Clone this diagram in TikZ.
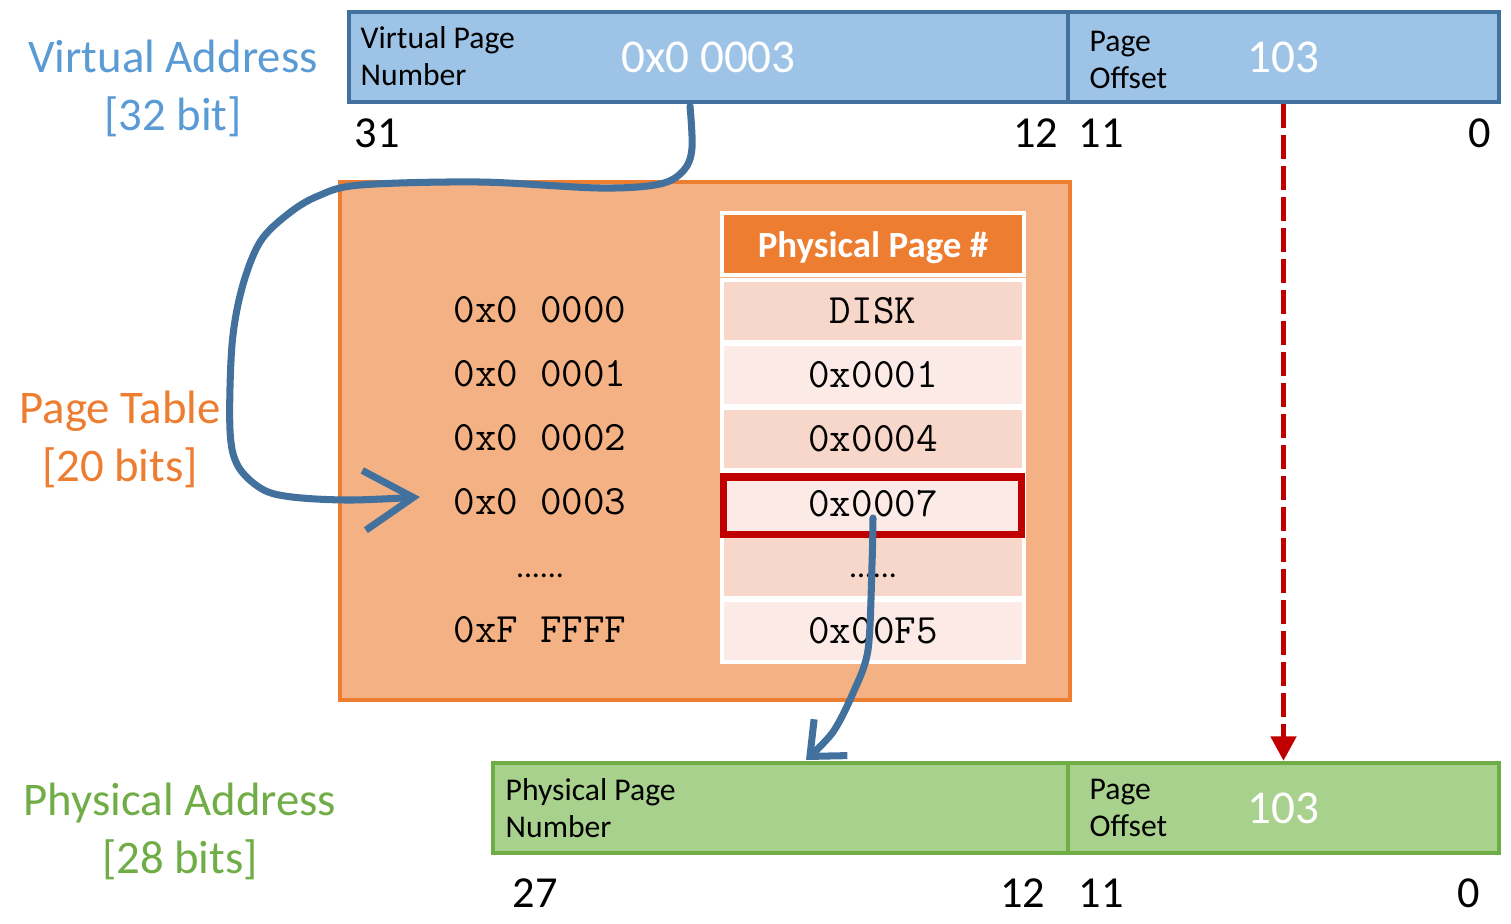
\documentclass[tikz,border=0pt]{standalone}
\usepackage{fontspec}
\setmainfont{Carlito}
\usetikzlibrary{arrows.meta}
\definecolor{vfill}{HTML}{9DC3E6}
\definecolor{vline}{HTML}{41719C}
\definecolor{vtext}{HTML}{5B9BD5}
\definecolor{ofill}{HTML}{F4B183}
\definecolor{oline}{HTML}{ED7D31}
\definecolor{rowdark}{HTML}{F8D7CB}
\definecolor{rowlight}{HTML}{FBEAE6}
\definecolor{gfill}{HTML}{A9D18E}
\definecolor{gline}{HTML}{70AD47}
\definecolor{hred}{HTML}{C00000}
\begin{document}
\begin{tikzpicture}[x=0.01cm,y=-0.01cm,
  vbox/.style={draw=vline, fill=vfill, line width=1.15pt, inner sep=0pt, minimum height=0.90cm,
     text=white, font=\fontsize{13.4}{16}\selectfont},
  gbox/.style={draw=gline, fill=gfill, line width=1.15pt, inner sep=0pt, minimum height=0.90cm,
     text=white, font=\fontsize{13.4}{16}\selectfont},
  fieldlbl/.style={anchor=west, align=left, inner sep=0pt, font=\fontsize{9}{10.7}\selectfont},
  bitnum/.style={inner sep=0pt, font=\fontsize{12.6}{15}\selectfont},
  biglbl/.style={align=center, inner sep=0pt, font=\fontsize{13.3}{16.5}\selectfont},
  cell/.style={draw=white, line width=1pt, minimum width=3.02cm, minimum height=0.62cm, inner sep=0pt,
     font=\ttfamily\fontsize{11.9}{13}\selectfont},
  entry/.style={inner sep=0pt, font=\ttfamily\fontsize{11.9}{13}\selectfont},
  dots/.style={inner sep=0pt, font=\fontsize{9}{10}\selectfont},
  handarrow/.style={draw=vline, line width=2pt, line cap=round, line join=round},
]
\useasboundingbox (0,0) rectangle (1511,923);

% ---------- virtual address ----------
\node[vbox, minimum width=7.19cm] (vpn) at (708.5,57) {0x0 0003};
\node[vbox, minimum width=4.31cm] (vo) at (1283.5,57) {103};
\node[fieldlbl] (vpnlbl) at (360,56) {Virtual Page\\Number};
\node[fieldlbl] (volbl) at (1089,60) {Page\\Offset};
\node[bitnum, anchor=west] (b31) at (354,133) {31};
\node[bitnum, anchor=east] (b12a) at (1059,133) {12};
\node[bitnum, anchor=west] (b11a) at (1078,133) {11};
\node[bitnum, anchor=east] (b0a) at (1492,133) {0};
\node[biglbl, text=vtext] (valbl) at (173,88) {Virtual Address\\{[32 bit]}};

% ---------- page table ----------
\node[draw=oline, fill=ofill, line width=1.15pt, minimum width=7.30cm, minimum height=5.18cm, inner sep=0pt] (pt) at (705,441) {};
\node[biglbl, text=oline] (ptlbl) at (120,439) {Page Table\\{[20 bits]}};

\node[cell, fill=oline] (hdr) at (873,244) {};
\node[inner sep=0pt, text=white, font=\bfseries\fontsize{10.5}{12}\selectfont] (hdrtxt) at (873,248) {Physical Page \#};
\node[cell, fill=rowdark] (c0) at (873,311) {DISK};
\node[cell, fill=rowlight] (c1) at (873,375) {0x0001};
\node[cell, fill=rowdark] (c2) at (873,439) {0x0004};
\node[cell, fill=rowlight] (c3) at (873,504) {0x0007};
\node[cell, fill=rowdark] (c4) at (873,567) {};
\node[dots] (c4dots) at (873,576) {......};
\node[cell, fill=rowlight] (c5) at (873,631) {0x00F5};

\node[entry] (e0) at (540,310) {0x0 0000};
\node[entry] (e1) at (540,374) {0x0 0001};
\node[entry] (e2) at (540,438) {0x0 0002};
\node[entry] (e3) at (540,502) {0x0 0003};
\node[dots] (e4) at (540,576) {......};
\node[entry] (e5) at (540,630) {0xF FFFF};

\node[draw=hred, line width=2pt, minimum width=2.98cm, minimum height=0.57cm, inner sep=0pt] (sel) at (872.5,505.5) {};

% ---------- physical address ----------
\node[gbox, minimum width=5.75cm] (ppn) at (780.5,808) {};
\node[gbox, minimum width=4.31cm] (po) at (1283.5,808) {103};
\node[fieldlbl] (ppnlbl) at (505,808) {Physical Page\\Number};
\node[fieldlbl] (polbl) at (1089,808) {Page\\Offset};
\node[bitnum, anchor=west] (b27) at (512,893) {27};
\node[bitnum, anchor=east] (b12b) at (1046,893) {12};
\node[bitnum, anchor=west] (b11b) at (1078,893) {11};
\node[bitnum, anchor=east] (b0b) at (1481,893) {0};
\node[biglbl, text=gline] (palbl) at (180,831) {Physical Address\\{[28 bits]}};

% ---------- connectors ----------
\coordinate (a1s) at (690,106);
\coordinate (a1e) at (420,497);
\draw[handarrow, -{Straight Barb[length=14pt,width=17pt,line width=2pt]}]
  plot[smooth, tension=0.55] coordinates {(a1s) (692,148) (684,170) (660,184) (600,188) (480,182) (360,185)
    (318,196) (288,214) (260,242) (242,288) (232,345) (230,430) (238,466) (262,489) (292,497) (350,500) (a1e)};

\coordinate (a2s) at (873,518);
\coordinate (a2e) at (806,760);
\draw[handarrow, -{Straight Barb[length=8pt,width=14pt,line width=2pt]}]
  plot[smooth, tension=0.5] coordinates {(a2s) (872,565) (868,650) (853,693) (833,732) (a2e)};

\draw[draw=hred, line width=1.7pt, dash pattern=on 0.24cm off 0.07cm,
  -{Triangle[length=7pt,width=7pt]}] (vo.south) -- (po.north);
\end{tikzpicture}
\end{document}
